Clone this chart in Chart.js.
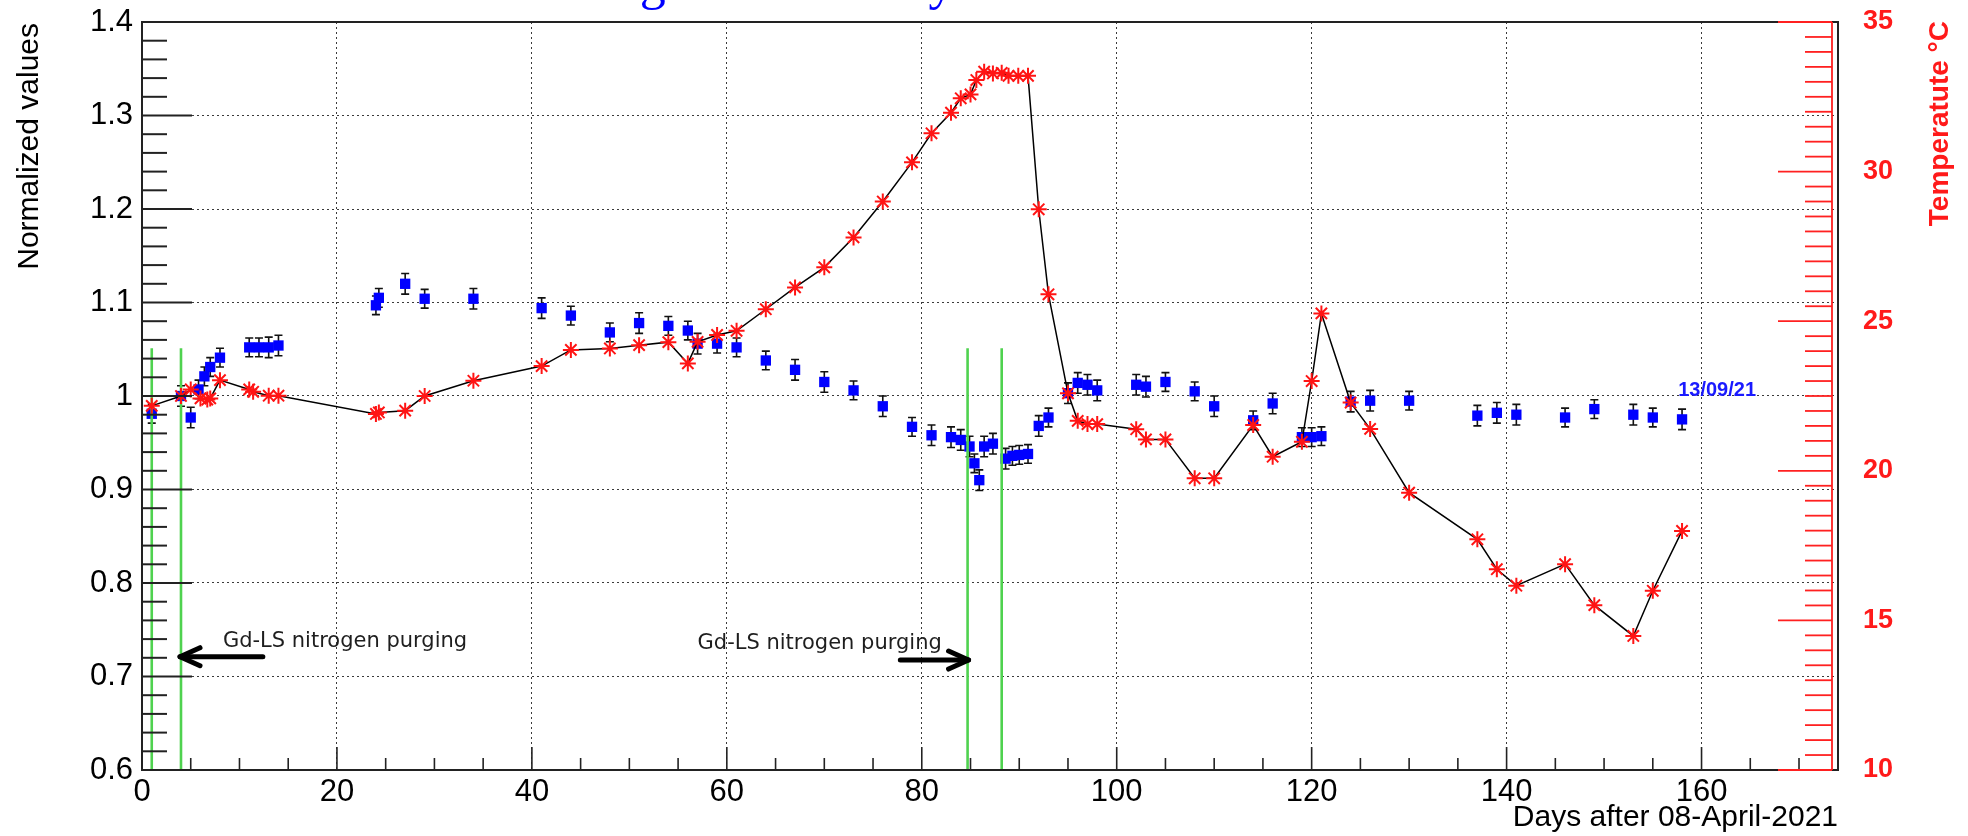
<!DOCTYPE html>
<html>
<head>
<meta charset="utf-8">
<title>Normalized values and temperature</title>
<script src="https://cdn.jsdelivr.net/npm/chart.js@4.4.1/dist/chart.umd.min.js"></script>
<style>
  html, body { margin:0; padding:0; background:#fff; overflow:hidden; }
  #wrap { position:relative; width:1968px; height:836px; }
</style>
</head>
<body>
<div id="wrap"><canvas id="stabChart" width="1968" height="836"></canvas></div>
<script>
/* -------- DATA -------- */
const normDays = [1, 4, 5, 5.8, 6.4, 7, 8, 11, 12, 13, 14, 24, 24.3, 27, 29, 34, 41, 44, 48, 51,
  54, 56, 57, 59, 61, 64, 67, 70, 73, 76, 79, 81, 83, 84, 84.9, 85.4, 85.9, 86.4, 87.3, 88.6,
  89.3, 90, 90.9, 92, 93, 95, 96, 97, 98, 102, 103, 105, 108, 110, 114, 116, 119, 120, 121,
  124, 126, 130, 137, 139, 141, 146, 149, 153, 155, 158];
const normValues = [0.981, 1.000, 0.977, 1.007, 1.021, 1.031, 1.041, 1.052, 1.052, 1.052, 1.054,
  1.097, 1.105, 1.120, 1.104, 1.104, 1.094, 1.086, 1.068, 1.078,
  1.075, 1.070, 1.056, 1.056, 1.052, 1.038, 1.028, 1.015, 1.006, 0.989, 0.967, 0.958, 0.956, 0.953,
  0.946, 0.928, 0.910, 0.946, 0.949, 0.933, 0.936, 0.937, 0.938, 0.968, 0.977,
  1.003, 1.014, 1.012, 1.006, 1.012, 1.010, 1.015, 1.005, 0.989, 0.974, 0.992, 0.956, 0.956, 0.957,
  0.994, 0.995, 0.995, 0.979, 0.982, 0.980, 0.977, 0.986, 0.980, 0.977, 0.975];
const normErrors = [0.010, 0.011, 0.011, 0.010, 0.010, 0.010, 0.010, 0.010, 0.010, 0.011, 0.011,
  0.010, 0.010, 0.011, 0.010, 0.011, 0.011, 0.010, 0.010, 0.011,
  0.010, 0.010, 0.011, 0.010, 0.010, 0.010, 0.011, 0.011, 0.010, 0.011, 0.010, 0.011, 0.011, 0.011,
  0.011, 0.010, 0.011, 0.011, 0.011, 0.011, 0.010, 0.010, 0.010, 0.011, 0.010,
  0.011, 0.011, 0.011, 0.011, 0.011, 0.011, 0.010, 0.010, 0.011, 0.010, 0.011, 0.010, 0.010, 0.010,
  0.011, 0.011, 0.010, 0.011, 0.011, 0.011, 0.010, 0.010, 0.011, 0.010, 0.011];

const tempDays = [1, 4, 5, 6, 6.7, 7, 8, 11, 11.4, 13, 14, 24, 24.3, 27, 29, 34, 41, 44, 48, 51,
  54, 56, 57, 59, 61, 64, 67, 70, 73, 76, 79, 81, 83, 84, 85, 85.6, 86.4, 87.3, 88.2, 88.9,
  89.9, 90.9, 92, 93, 95, 96, 97, 98, 102, 103, 105, 108, 110, 114, 116, 119, 120, 121,
  124, 126, 130, 137, 139, 141, 146, 149, 153, 155, 158];
const tempValues = [22.17, 22.5, 22.72, 22.42, 22.38, 22.42, 23.03, 22.72, 22.64, 22.51, 22.51,
  21.9, 21.95, 22.01, 22.5, 23.01, 23.5, 24.04, 24.09, 24.2,
  24.3, 23.59, 24.31, 24.54, 24.68, 25.4, 26.13, 26.8, 27.8, 29.0, 30.31, 31.28, 31.97, 32.45,
  32.58, 33.06, 33.34, 33.28, 33.3, 33.2, 33.2, 33.2, 28.74, 25.9, 22.59, 21.67, 21.56, 21.56,
  21.39, 21.05, 21.05, 19.75, 19.75, 21.53, 20.47, 20.97, 23.0, 25.26,
  22.28, 21.4, 19.27, 17.71, 16.71, 16.16, 16.88, 15.51, 14.48, 15.99, 17.99];

const xTicks = [0, 20, 40, 60, 80, 100, 120, 140, 160];
const yTicks = [0.6, 0.7, 0.8, 0.9, 1.0, 1.1, 1.2, 1.3, 1.4];
const yTickLabels = ["0.6", "0.7", "0.8", "0.9", "1", "1.1", "1.2", "1.3", "1.4"];
const tempTicks = [10, 15, 20, 25, 30, 35];

// annotations: purge start/stop lines, arrows and labels (data coordinates)
const purgeLines = [1, 4, 84.7, 88.2];
const purgeTop = 1.051;
const purgeArrows = [[12.4, 3.9, 0.7212], [77.8, 84.8, 0.7176]];
const purgeLabels = [[8.3, 0.7316], [57.0, 0.7294]];
const purgeText = "Gd-LS nitrogen purging";
const dateNote = ["13/09/21", 157.6, 1.0];

let chartInstance = null;

// fixed box sizes so the plot frame lands where the original has it
function fixBox(size) {
  return s => {
    if (s.isHorizontal()) s.height = size; else s.width = size;
    s.paddingTop = 0; s.paddingBottom = 0; s.paddingLeft = 0; s.paddingRight = 0;
  };
}

/* -------- ROOT-LIKE FRAME, TICKS, ERROR BARS, NOTES -------- */
const rootStyle = {
  id: 'rootStyle',
  beforeDatasetDraw(chart, args) {
    if (args.index !== 1) return;
    const {ctx, scales:{x, y}} = chart;
    ctx.save();
    ctx.strokeStyle = "#111";
    ctx.lineWidth = 1.6;
    normDays.forEach((d, i) => {
      let px = x.getPixelForValue(d);
      let top = y.getPixelForValue(normValues[i] + normErrors[i]);
      let bot = y.getPixelForValue(normValues[i] - normErrors[i]);
      ctx.beginPath();
      ctx.moveTo(px, top); ctx.lineTo(px, bot);
      ctx.moveTo(px - 4, top); ctx.lineTo(px + 4, top);
      ctx.moveTo(px - 4, bot); ctx.lineTo(px + 4, bot);
      ctx.stroke();
    });
    ctx.restore();
  },
  afterDatasetDraw(chart, args) {
    if (args.index !== 1) return;
    const {ctx, scales:{x, y}} = chart;
    ctx.save();
    ctx.strokeStyle = "#4fd24f";
    ctx.lineWidth = 2.6;
    purgeLines.forEach(d => {
      let px = x.getPixelForValue(d);
      ctx.beginPath();
      ctx.moveTo(px, y.getPixelForValue(0.6));
      ctx.lineTo(px, y.getPixelForValue(purgeTop));
      ctx.stroke();
    });
    ctx.restore();
  },
  afterDraw(chart) {
    const {ctx, chartArea:a, scales:{x, y, y2}} = chart;
    ctx.save();

    // frame
    ctx.strokeStyle = "#222";
    ctx.lineWidth = 2;
    ctx.strokeRect(a.left, a.top, a.right - a.left, a.bottom - a.top);

    // left ticks (major 0.1, minor 0.02)
    for (let k = 0; k <= 40; k++) {
      let py = y.getPixelForValue(0.6 + k * 0.02);
      let len = k % 5 === 0 ? 50 : 25;
      ctx.beginPath(); ctx.moveTo(a.left, py); ctx.lineTo(a.left + len, py); ctx.stroke();
    }
    // bottom ticks (major 20, minor 5)
    ctx.lineWidth = 1.6;
    for (let d = 0; d <= 170; d += 5) {
      let px = x.getPixelForValue(d);
      let len = d % 20 === 0 ? 23 : 12;
      ctx.beginPath(); ctx.moveTo(px, a.bottom); ctx.lineTo(px, a.bottom - len); ctx.stroke();
    }

    // red temperature axis
    let rx = a.right - 6;
    ctx.strokeStyle = "#ff2020";
    ctx.lineWidth = 1.8;
    ctx.beginPath(); ctx.moveTo(rx, a.top); ctx.lineTo(rx, a.bottom); ctx.stroke();
    for (let k = 0; k <= 50; k++) {
      let py = y2.getPixelForValue(10 + k * 0.5);
      let len = k % 10 === 0 ? 54 : 27;
      ctx.lineWidth = (k === 0 || k === 50) ? 2.2 : 1.8;
      ctx.beginPath(); ctx.moveTo(rx - len, py); ctx.lineTo(rx, py); ctx.stroke();
    }

    // left axis title (top aligned, reads upwards)
    ctx.save();
    ctx.translate(38, a.top + 1);
    ctx.rotate(-Math.PI / 2);
    ctx.fillStyle = "#000";
    ctx.font = '30px "Liberation Sans", Arial, sans-serif';
    ctx.textAlign = "right";
    ctx.textBaseline = "alphabetic";
    ctx.fillText("Normalized values", 0, 0);
    ctx.restore();

    // right axis title
    ctx.save();
    ctx.translate(1940, a.top - 1);
    ctx.rotate(-Math.PI / 2);
    ctx.fillStyle = "#ff1a1a";
    ctx.font = 'bold 28px "Liberation Sans", Arial, sans-serif';
    ctx.textAlign = "right";
    ctx.textBaseline = "middle";
    ctx.fillText("Temperatute \u00B0C", 0, 0);
    ctx.restore();

    // arrows
    ctx.strokeStyle = "#000";
    ctx.lineWidth = 5;
    ctx.lineCap = "round";
    ctx.lineJoin = "round";
    purgeArrows.forEach(([d1, d2, v]) => {
      let x1 = x.getPixelForValue(d1), x2 = x.getPixelForValue(d2), py = y.getPixelForValue(v);
      let dir = Math.sign(x2 - x1);
      ctx.beginPath(); ctx.moveTo(x1, py); ctx.lineTo(x2, py); ctx.stroke();
      ctx.beginPath();
      ctx.moveTo(x2 - dir * 20, py - 9); ctx.lineTo(x2, py); ctx.lineTo(x2 - dir * 20, py + 9);
      ctx.stroke();
    });

    // purge labels
    ctx.fillStyle = "#1e1e1e";
    ctx.font = '21px "DejaVu Sans", sans-serif';
    ctx.textAlign = "left";
    ctx.textBaseline = "alphabetic";
    purgeLabels.forEach(([d, v]) => {
      ctx.fillText(purgeText, x.getPixelForValue(d), y.getPixelForValue(v));
    });

    // date note
    ctx.fillStyle = "#1a1aff";
    ctx.font = 'bold 20px "Liberation Sans", Arial, sans-serif';
    ctx.fillText(dateNote[0], x.getPixelForValue(dateNote[1]), y.getPixelForValue(dateNote[2]));

    // title, mostly cut off by the top edge
    ctx.fillStyle = "#0000ff";
    ctx.font = '52px "Liberation Serif", "Times New Roman", serif';
    ctx.fillText("Long term stability", 556, -1);

    ctx.restore();
  }
};

function drawChart(){
  let ctx = document.getElementById("stabChart");
  if (chartInstance) chartInstance.destroy();

  const labelFont = {family: 'Liberation Sans', size: 31};
  const titleFont = {family: 'Liberation Sans', size: 30};

  chartInstance = new Chart(ctx, {
    type: "scatter",
    data: {
      datasets: [{
        label: "Temperature",
        data: tempDays.map((d, i) => ({x: d, y: tempValues[i]})),
        yAxisID: "y2",
        showLine: true,
        borderColor: "#000",
        borderWidth: 1.5,
        pointStyle: "star",
        pointRadius: 8,
        pointBorderColor: "#ff1414",
        pointBackgroundColor: "#ff1414",
        pointBorderWidth: 2
      }, {
        label: "Normalized values",
        data: normDays.map((d, i) => ({x: d, y: normValues[i]})),
        yAxisID: "y",
        showLine: false,
        pointStyle: "rect",
        pointRadius: 7.3,
        pointBackgroundColor: "#0000ff",
        pointBorderColor: "#0000ff",
        pointBorderWidth: 0
      }]
    },
    options: {
      responsive: false,
      animation: false,
      devicePixelRatio: 1,
      layout: { autoPadding: false, padding: {top: 22, left: 0, right: 0, bottom: 0} },
      plugins: { legend: {display: false}, tooltip: {enabled: false} },
      scales: {
        x: {
          type: "linear", position: "bottom", min: 0, max: 174,
          afterBuildTicks: s => { s.ticks = xTicks.map(v => ({value: v})); },
          afterFit: fixBox(66),
          ticks: { color: "#000", font: labelFont, padding: 4, maxRotation: 0, autoSkip: false,
                   callback: v => String(v) },
          grid: { color: "#3a3a3a", lineWidth: 1, drawTicks: false },
          border: { display: false, dash: [2, 3] },
          title: { display: true, text: "Days after 08-April-2021", align: "end", color: "#000",
                   font: titleFont, padding: {top: 0, bottom: 0} }
        },
        y: {
          type: "linear", position: "left", min: 0.6, max: 1.4,
          afterBuildTicks: s => { s.ticks = yTicks.map(v => ({value: v})); },
          afterFit: fixBox(142),
          ticks: { color: "#000", font: labelFont, padding: 9,
                   callback: (v) => yTickLabels[yTicks.findIndex(t => Math.abs(t - v) < 1e-6)] },
          grid: { color: "#3a3a3a", lineWidth: 1, drawTicks: false },
          border: { display: false, dash: [2, 3] },
          title: { display: false }
        },
        y2: {
          type: "linear", position: "right", min: 10, max: 35,
          afterBuildTicks: s => { s.ticks = tempTicks.map(v => ({value: v})); },
          afterFit: fixBox(130),
          ticks: { color: "#ff1a1a", font: {family: 'Liberation Sans', size: 27, weight: 'bold'},
                   padding: 25, callback: v => String(v) },
          grid: { display: false, drawTicks: false },
          border: { display: false }
        }
      }
    },
    plugins: [rootStyle]
  });
}

drawChart();
</script>
</body>
</html>
